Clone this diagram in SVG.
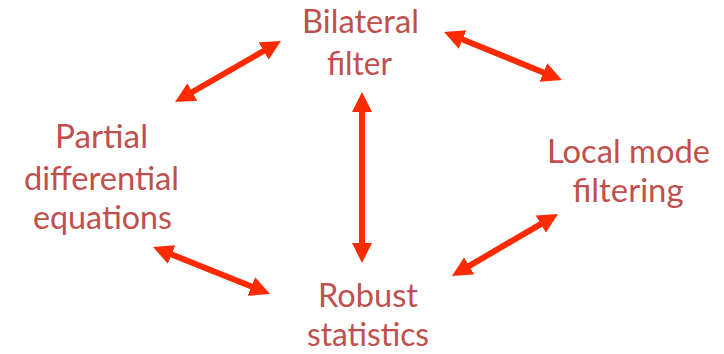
<svg xmlns="http://www.w3.org/2000/svg" width="724" height="354" viewBox="0 0 724 354">
  <style>
    .label { font-family: Lato, "Open Sans", "Liberation Sans", sans-serif; font-size: 32px; fill: #C0504D; text-anchor: middle; }
    .link { stroke: #FF2A00; stroke-width: 6; fill: none; marker-start: url(#head); marker-end: url(#head); }
  </style>
  <defs>
    <marker id="head" markerUnits="userSpaceOnUse" markerWidth="20" markerHeight="20" refX="2" refY="10" orient="auto-start-reverse" viewBox="0 0 20 20">
      <path d="M0,0 L20,10 L0,20 z" fill="#FF2A00"/>
    </marker>
  </defs>
  <rect width="724" height="354" fill="#FFFFFF"/>

  <g id="connectors">
    <line class="link" x1="190.6" y1="93.0" x2="265.4" y2="50.0"/>
    <line class="link" x1="460.7" y1="38.8" x2="545.3" y2="73.2"/>
    <line class="link" x1="362" y1="110" x2="362" y2="245"/>
    <line class="link" x1="169.7" y1="253.7" x2="253.3" y2="287.3"/>
    <line class="link" x1="467.5" y1="266.9" x2="542.5" y2="223.1"/>
  </g>

  <g id="bilateral-filter">
    <text class="label" x="360.5" y="33" textLength="117" lengthAdjust="spacingAndGlyphs">Bilateral</text>
    <text class="label" x="359.5" y="75" textLength="65" lengthAdjust="spacingAndGlyphs">filter</text>
  </g>

  <g id="partial-differential-equations">
    <text class="label" x="101.5" y="148" textLength="93" lengthAdjust="spacingAndGlyphs">Partial</text>
    <text class="label" x="101.5" y="190" textLength="155" lengthAdjust="spacingAndGlyphs">differential</text>
    <text class="label" x="102.5" y="229" textLength="139" lengthAdjust="spacingAndGlyphs">equations</text>
  </g>

  <g id="robust-statistics">
    <text class="label" x="368" y="307" textLength="100" lengthAdjust="spacingAndGlyphs">Robust</text>
    <text class="label" x="368" y="346" textLength="122" lengthAdjust="spacingAndGlyphs">statistics</text>
  </g>

  <g id="local-mode-filtering">
    <text class="label" x="628.5" y="163" textLength="163" lengthAdjust="spacingAndGlyphs">Local mode</text>
    <text class="label" x="628" y="202" textLength="111" lengthAdjust="spacingAndGlyphs">filtering</text>
  </g>
</svg>
